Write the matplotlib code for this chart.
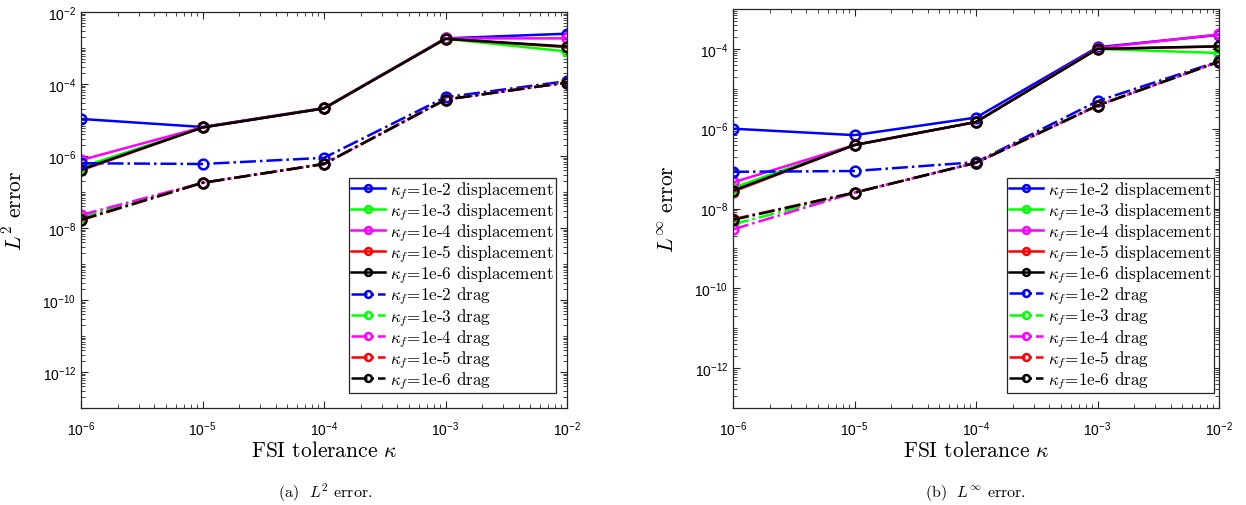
import numpy as np
import matplotlib
matplotlib.use('Agg')
import matplotlib.pyplot as plt
from matplotlib.ticker import LogLocator, FixedLocator, FuncFormatter, NullFormatter

plt.rcParams['font.family'] = ['cmr10', 'DejaVu Serif']
plt.rcParams['mathtext.fontset'] = 'cm'
plt.rcParams['axes.unicode_minus'] = False
# sans math font for the tick labels only (used through math_fontfamily='custom')
plt.rcParams['mathtext.rm'] = 'Liberation Sans'
plt.rcParams['mathtext.it'] = 'Liberation Sans:italic'
plt.rcParams['mathtext.sf'] = 'Liberation Sans'

# FSI tolerance values (x axis)
tol = [1e-6, 1e-5, 1e-4, 1e-3, 1e-2]
kappa_f = ['1e-2', '1e-3', '1e-4', '1e-5', '1e-6']
colors = ['#0000ff', '#00ff00', '#ff00ff', '#ff0000', '#000000']

# L2 error, displacement (one row per kappa_f)
l2_disp = [
    [1.07e-5, 6.4e-6, 2.15e-5, 1.85e-3, 2.5e-3],
    [4.9e-7, 6.2e-6, 2.1e-5, 1.8e-3, 8.0e-4],
    [7.7e-7, 6.3e-6, 2.1e-5, 1.85e-3, 1.85e-3],
    [4.0e-7, 6.2e-6, 2.1e-5, 1.8e-3, 1.05e-3],
    [4.2e-7, 6.2e-6, 2.1e-5, 1.8e-3, 1.1e-3],
]
# L2 error, drag
l2_drag = [
    [6.3e-7, 6.0e-7, 8.9e-7, 4.3e-5, 1.2e-4],
    [2.0e-8, 1.8e-7, 6.0e-7, 3.7e-5, 1.1e-4],
    [2.3e-8, 1.8e-7, 6.0e-7, 3.7e-5, 1.1e-4],
    [1.65e-8, 1.8e-7, 6.0e-7, 3.7e-5, 1.1e-4],
    [1.7e-8, 1.8e-7, 6.0e-7, 3.7e-5, 1.1e-4],
]
# Linf error, displacement
linf_disp = [
    [1.0e-6, 6.9e-7, 1.9e-6, 1.1e-4, 2.25e-4],
    [3.3e-8, 3.9e-7, 1.47e-6, 1.0e-4, 7.9e-5],
    [4.5e-8, 3.9e-7, 1.47e-6, 1.05e-4, 2.3e-4],
    [2.65e-8, 3.9e-7, 1.47e-6, 1.0e-4, 1.15e-4],
    [2.8e-8, 3.9e-7, 1.47e-6, 1.0e-4, 1.16e-4],
]
# Linf error, drag
linf_drag = [
    [8.3e-8, 8.7e-8, 1.45e-7, 4.9e-6, 4.9e-5],
    [4.0e-9, 2.5e-8, 1.4e-7, 3.8e-6, 4.8e-5],
    [3.0e-9, 2.5e-8, 1.4e-7, 3.8e-6, 4.8e-5],
    [5.4e-9, 2.5e-8, 1.4e-7, 3.8e-6, 4.8e-5],
    [5.2e-9, 2.5e-8, 1.4e-7, 3.8e-6, 4.8e-5],
]

fig = plt.figure(figsize=(12.46, 5.06), dpi=100)
ax1 = fig.add_axes([81 / 1246, 1 - 409 / 506, 486 / 1246, 396 / 506])
ax2 = fig.add_axes([733 / 1246, 1 - 409 / 506, 486 / 1246, 399 / 506])


def sci_label(v, pos):
    e = int(round(np.log10(v)))
    return r'$\mathrm{10^{%d}}$' % e


def draw(ax, disp, drag, ylim, ylabel, leg_right):
    for k in range(5):
        ax.plot(tol, disp[k], '-', color=colors[k], lw=1.8, marker='o', ms=7,
                mfc='none', mew=1.8, label=r'$\kappa_f$=%s displacement' % kappa_f[k])
    for k in range(5):
        ax.plot(tol, drag[k], '-.', color=colors[k], lw=1.8, marker='o', ms=7,
                mfc='none', mew=1.8, label=r'$\kappa_f$=%s drag' % kappa_f[k])
    ax.set_xscale('log')
    ax.set_yscale('log')
    ax.set_xlim(1e-6, 1e-2)
    ax.set_ylim(*ylim)
    ax.xaxis.set_major_locator(FixedLocator(tol))
    ax.xaxis.set_minor_locator(LogLocator(base=10, subs=np.arange(2, 10), numticks=50))
    lo, hi = int(np.log10(ylim[0])), int(np.log10(ylim[1]))
    yt = [10.0 ** e for e in range(hi, lo - 1, -1) if e % 2 == 0]
    ax.yaxis.set_major_locator(FixedLocator(yt))
    ax.yaxis.set_minor_locator(LogLocator(base=10, subs=np.arange(1, 10), numticks=50))
    ax.xaxis.set_major_formatter(FuncFormatter(sci_label))
    ax.yaxis.set_major_formatter(FuncFormatter(sci_label))
    ax.xaxis.set_minor_formatter(NullFormatter())
    ax.yaxis.set_minor_formatter(NullFormatter())
    ax.tick_params(which='both', direction='in', top=True, right=True,
                   colors='#262626', labelcolor='black', labelsize=10)
    ax.tick_params(which='major', length=5, width=0.8)
    ax.tick_params(which='minor', length=3, width=0.6)
    ax.tick_params(axis='x', pad=8)
    fig.canvas.draw()
    for lab in ax.get_xticklabels() + ax.get_yticklabels():
        lab.set_math_fontfamily('custom')
    for s in ax.spines.values():
        s.set_color('#262626')
        s.set_linewidth(0.9)
    ax.set_xlabel(r'FSI tolerance $\kappa$', fontsize=15.5, labelpad=2)
    ax.set_ylabel(ylabel, fontsize=15.5)
    ax.yaxis.set_label_coords(-0.114, 0.5)
    leg = ax.legend(loc='lower right', bbox_to_anchor=(leg_right, 0.038), fontsize=12.3,
                    fancybox=False, framealpha=1, edgecolor='#262626',
                    handlelength=2.0, handletextpad=0.3, labelspacing=0.0,
                    borderpad=0.12, borderaxespad=0, markerscale=0.7)
    leg.get_frame().set_linewidth(0.9)


draw(ax1, l2_disp, l2_drag, (1e-13, 1e-2), r'$L^2$ error', 0.977)
draw(ax2, linf_disp, linf_drag, (1e-13, 1e-3), r'$L^\infty$ error', 0.99)

fig.text(325 / 1246, 1 - 493 / 506, r'(a)  $L^2$ error.', ha='center', va='center', fontsize=11.5)
fig.text(976 / 1246, 1 - 493 / 506, r'(b)  $L^\infty$ error.', ha='center', va='center', fontsize=11.5)

fig.savefig('out.png', dpi=100)
